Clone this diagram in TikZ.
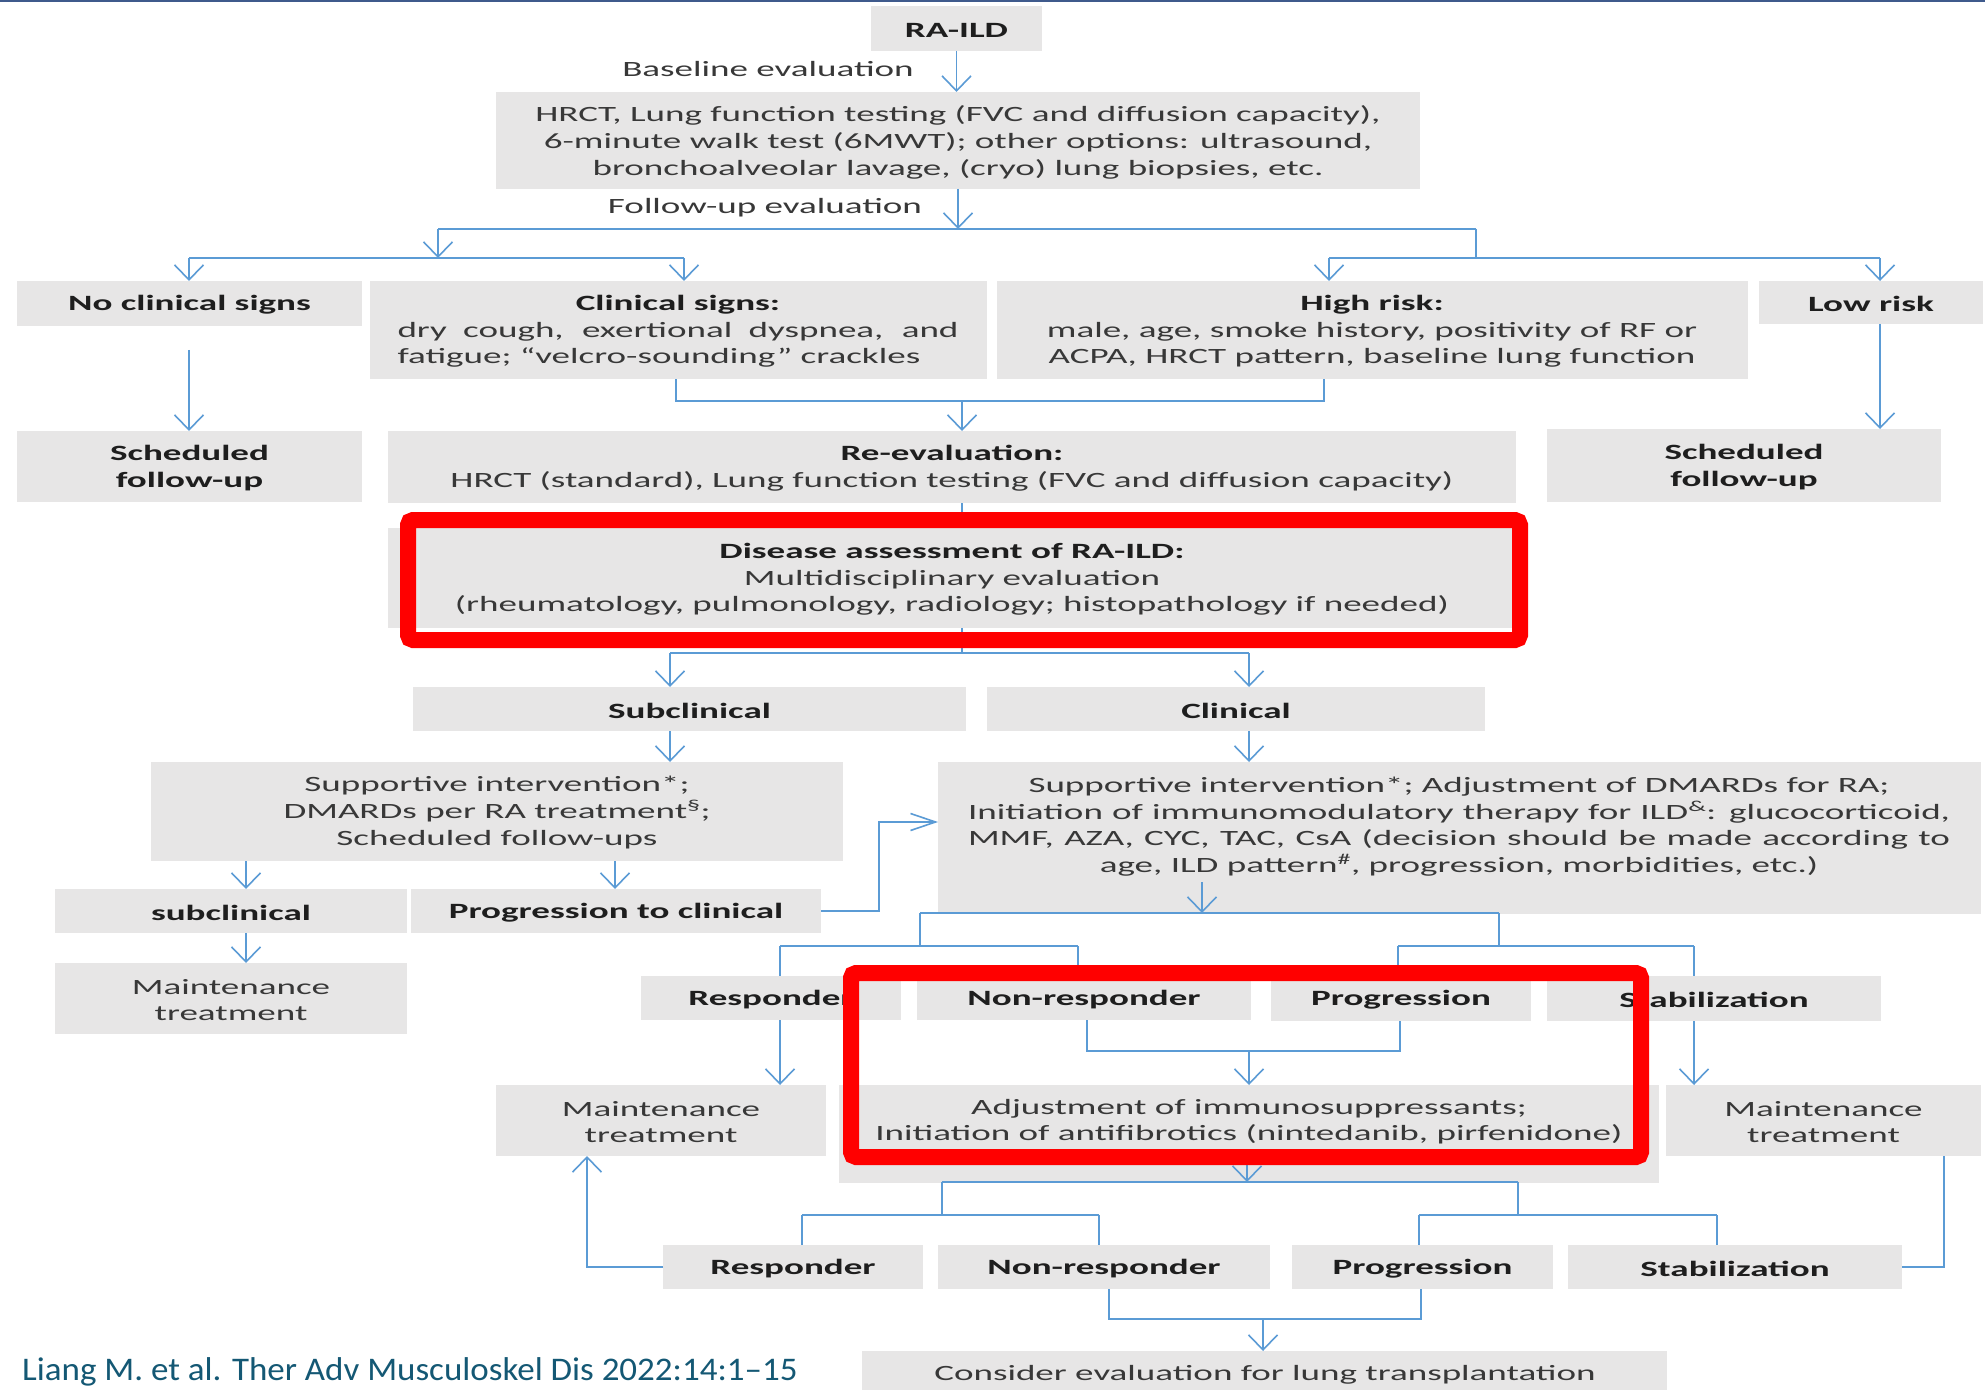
\documentclass[tikz,border=0pt]{standalone}
\usepackage{fontspec}
\setmainfont{Carlito}[FakeStretch=1.7]
\newfontfamily\citefont{Carlito}[FakeStretch=1.06]
\usetikzlibrary{arrows.meta,fit,calc}
\definecolor{boxgray}{RGB}{231,230,230}
\definecolor{lblue}{RGB}{91,155,213}
\definecolor{txtc}{RGB}{56,56,56}
\definecolor{boldc}{RGB}{30,30,30}
\definecolor{topblue}{RGB}{63,90,140}
\definecolor{citec}{RGB}{20,88,116}
\definecolor{hired}{RGB}{255,0,0}
\tikzset{
  gbox/.style={fill=boxgray, draw=none, inner sep=0pt, outer sep=0pt},
  txt/.style={font=\fontsize{21.8bp}{26.6bp}\selectfont, text=txtc, inner sep=0pt, align=center, yshift=-1.5bp},
  btxt/.style={txt, font=\fontsize{21.8bp}{26.6bp}\selectfont\bfseries, text=boldc},
  conn/.style={draw=lblue, line width=1.6bp},
  dn/.style={conn, -{Straight Barb[length=15bp,width=29bp]}},
  rt/.style={conn, -{Straight Barb[length=25bp,width=17bp]}},
  hilite/.style={draw=hired, line width=16bp, rounded corners=5bp, inner sep=0pt, outer sep=0pt},
}
% grey box from its top-left to its bottom-right corner
\newcommand\gb[5]{\node[gbox, fit={(#2,#3) (#4,#5)}] (#1) {};}
\newcommand\hd[1]{{\bfseries\color{boldc}#1}}
\begin{document}
\begin{tikzpicture}[x=1bp, y=-1bp]
\useasboundingbox (0,0) rectangle (1985,1390);
\fill[white] (0,0) rectangle (1985,1390);
\draw[topblue, line width=2.5bp] (0,1) -- (1985,1);

% ---- boxes ----
\gb{ra}{871}{6}{1042}{51}
\gb{hrct}{496}{92}{1420}{189}
\gb{nocs}{17}{281}{362}{326}
\gb{clin}{370}{281}{987}{379}
\gb{high}{997}{281}{1748}{379}
\gb{low}{1759}{281}{1983}{324}
\gb{sfl}{17}{431}{362}{502}
\gb{reev}{388}{431}{1516}{503}
\gb{sfr}{1547}{429}{1941}{502}
\gb{dis}{388}{528}{1516}{628}
\gb{subc}{413}{687}{966}{731}
\gb{clinc}{987}{687}{1485}{731}
\gb{supl}{151}{762}{843}{861}
\gb{supr}{938}{762}{1981}{914}
\gb{subl}{55}{889}{407}{933}
\gb{prog}{411}{889}{821}{933}
\gb{mtl}{55}{963}{407}{1034}
\gb{resp1}{641}{976}{901}{1020}
\gb{nres1}{917}{976}{1251}{1020}
\gb{prog1}{1271}{976}{1531}{1021}
\gb{stab1}{1547}{976}{1881}{1021}
\gb{mtm}{496}{1085}{826}{1156}
\gb{adj}{839}{1085}{1659}{1183}
\gb{mtr}{1666}{1085}{1981}{1156}
\gb{resp2}{663}{1245}{923}{1289}
\gb{nres2}{938}{1245}{1270}{1289}
\gb{prog2}{1292}{1245}{1553}{1289}
\gb{stab2}{1568}{1245}{1902}{1289}
\gb{cons}{862}{1351}{1667}{1390}

% ---- texts ----
\node[btxt] (ra-t) at (ra.center) {RA-ILD};
\node[txt] (bl) at (768,68) {Baseline evaluation};
\node[txt] (hrct-t) at (958,141) {HRCT, Lung function testing (FVC and diffusion capacity),\\6-minute walk test (6MWT); other options: ultrasound,\\bronchoalveolar lavage, (cryo) lung biopsies, etc.};
\node[txt] (fu) at (765,206) {Follow-up evaluation};
\node[btxt] (nocs-t) at (nocs.center) {No clinical signs};
\node[txt] (clin-t) at (678,330) {\hd{Clinical signs:}\\\makebox[561bp][s]{dry cough, exertional dyspnea, and}\\\makebox[561bp][l]{fatigue; “velcro-sounding” crackles}};
\node[txt] (high-t) at (1372,330) {\hd{High risk:}\\male, age, smoke history, positivity of RF or\\ACPA, HRCT pattern, baseline lung function};
\node[btxt] (low-t) at (low.center) {Low risk};
\node[btxt] (sfl-t) at (sfl.center) {Scheduled\\follow-up};
\node[txt] (reev-t) at (952,467) {\hd{Re-evaluation:}\\HRCT (standard), Lung function testing (FVC and diffusion capacity)};
\node[btxt] (sfr-t) at (sfr.center) {Scheduled\\follow-up};
\node[txt] (dis-t) at (952,578) {\hd{Disease assessment of RA-ILD:}\\Multidisciplinary evaluation\\(rheumatology, pulmonology, radiology; histopathology if needed)};
\node[btxt] (subc-t) at (subc.center) {Subclinical};
\node[btxt] (clinc-t) at (clinc.center) {Clinical};
\node[txt] (supl-t) at (497,811) {Supportive intervention*;\\DMARDs per RA treatment\textsuperscript{\S};\\Scheduled follow-ups};
\node[txt] (supr-t) at (1459,825) {Supportive intervention*; Adjustment of DMARDs for RA;\\\makebox[982bp][s]{Initiation of immunomodulatory therapy for ILD\textsuperscript{\&}: glucocorticoid,}\\\makebox[982bp][s]{MMF, AZA, CYC, TAC, CsA (decision should be made according to}\\age, ILD pattern\textsuperscript{\#}, progression, morbidities, etc.)};
\node[btxt] (subl-t) at (subl.center) {subclinical};
\node[btxt] (prog-t) at (prog.center) {Progression to clinical};
\node[txt] (mtl-t) at (mtl.center) {Maintenance\\treatment};
\node[btxt] (resp1-t) at (resp1.center) {Responder};
\node[btxt] (nres1-t) at (nres1.center) {Non-responder};
\node[btxt] (prog1-t) at (prog1.center) {Progression};
\node[btxt] (stab1-t) at (stab1.center) {Stabilization};
\node[txt] (mtm-t) at (mtm.center) {Maintenance\\treatment};
\node[txt] (adj-t) at (1249,1120) {Adjustment of immunosuppressants;\\Initiation of antifibrotics (nintedanib, pirfenidone)};
\node[txt] (mtr-t) at (mtr.center) {Maintenance\\treatment};
\node[btxt] (resp2-t) at (resp2.center) {Responder};
\node[btxt] (nres2-t) at (nres2.center) {Non-responder};
\node[btxt] (prog2-t) at (prog2.center) {Progression};
\node[btxt] (stab2-t) at (stab2.center) {Stabilization};
\node[txt] (cons-t) at (1265,1373) {Consider evaluation for lung transplantation};
\node[anchor=base west, inner sep=0pt, text=citec, font=\citefont\fontsize{33bp}{39bp}\selectfont] (cite) at (22,1380) {Liang M. et al. Ther Adv Musculoskel Dis 2022:14:1–15};

% ---- connectors ----
\draw[dn] (ra.south) -- (ra.south |- hrct.north);
\coordinate (s0) at (958,229);
\coordinate (s0l) at (438,229);
\coordinate (s0r) at (1476,229);
\draw[dn] (s0 |- hrct.south) -- (s0);
\draw[conn] (s0l) -- (s0r);
\coordinate (s1) at (438,258);
\coordinate (s1a) at (189,258);
\coordinate (s1b) at (684,258);
\draw[dn] (s0l) -- (s1);
\draw[conn] (s1a) -- (s1b);
\draw[dn] (s1a) -- (s1a |- nocs.north);
\draw[dn] (s1b) -- (s1b |- clin.north);
\coordinate (s2) at (1476,258);
\coordinate (s2a) at (1329,258);
\coordinate (s2b) at (1880,258);
\draw[conn] (s0r) -- (s2);
\draw[conn] (s2a) -- (s2b);
\draw[dn] (s2a) -- (s2a |- high.north);
\draw[dn] (s2b) -- (s2b |- low.north);

\coordinate (n0) at (189,350);
\draw[dn] (n0) -- (n0 |- sfl.north);
\coordinate (m0) at (676,401);
\coordinate (m1) at (1324,401);
\coordinate (m2) at (962,401);
\draw[conn] (m0 |- clin.south) -- (m0) -- (m1) -- (m1 |- high.south);
\draw[dn] (m2) -- (m2 |- reev.north);
\draw[dn] (s2b |- low.south) -- (s2b |- sfr.north);

\draw[conn] (m2 |- reev.south) -- (m2 |- dis.north);
\coordinate (d0) at (962,653);
\coordinate (d1) at (670,653);
\coordinate (d2) at (1249,653);
\draw[conn] (d0 |- dis.south) -- (d0);
\draw[conn] (d1) -- (d2);
\draw[dn] (d1) -- (d1 |- subc.north);
\draw[dn] (d2) -- (d2 |- clinc.north);
\draw[dn] (d1 |- subc.south) -- (d1 |- supl.north);
\draw[dn] (d2 |- clinc.south) -- (d2 |- supr.north);

\coordinate (e1) at (246,875);
\coordinate (e2) at (615,875);
\draw[dn] (e1 |- supl.south) -- (e1 |- subl.north);
\draw[dn] (e2 |- supl.south) -- (e2 |- prog.north);
\draw[dn] (e1 |- subl.south) -- (e1 |- mtl.north);
\coordinate (p1) at (879,822);
\draw[rt] (prog.east) -- (prog.east -| p1) -- (p1) -- (supr.west |- p1);

\coordinate (f0a) at (1202,882);
\coordinate (f0) at (1202,913);
\draw[dn] (f0a) -- (f0);
\coordinate (f1) at (920,913);
\coordinate (f2) at (1499,913);
\draw[conn] (f1) -- (f2);
\coordinate (g1) at (920,946);
\coordinate (g1a) at (780,946);
\coordinate (g1b) at (1078,946);
\draw[conn] (f1) -- (g1);
\draw[conn] (g1a) -- (g1b);
\draw[conn] (g1a) -- (g1a |- resp1.north);
\draw[conn] (g1b) -- (g1b |- nres1.north);
\coordinate (g2) at (1499,946);
\coordinate (g2a) at (1398,946);
\coordinate (g2b) at (1694,946);
\draw[conn] (f2) -- (g2);
\draw[conn] (g2a) -- (g2b);
\draw[conn] (g2a) -- (g2a |- prog1.north);
\draw[conn] (g2b) -- (g2b |- stab1.north);

\draw[dn] (g1a |- resp1.south) -- (g1a |- mtm.north);
\coordinate (h0) at (1249,1051);
\coordinate (h1) at (1087,1051);
\coordinate (h2) at (1400,1051);
\draw[conn] (h1 |- nres1.south) -- (h1) -- (h2) -- (h2 |- prog1.south);
\draw[dn] (h0) -- (h0 |- adj.north);
\draw[dn] (g2b |- stab1.south) -- (g2b |- mtr.north);

\coordinate (k0a) at (1247,1150);
\coordinate (k0) at (1247,1182);
\draw[dn] (k0a) -- (k0);
\coordinate (k1) at (942,1182);
\coordinate (k2) at (1518,1182);
\draw[conn] (k1) -- (k2);
\coordinate (l1) at (942,1215);
\coordinate (l1a) at (802,1215);
\coordinate (l1b) at (1099,1215);
\draw[conn] (k1) -- (l1);
\draw[conn] (l1a) -- (l1b);
\draw[conn] (l1a) -- (l1a |- resp2.north);
\draw[conn] (l1b) -- (l1b |- nres2.north);
\coordinate (l2) at (1518,1215);
\coordinate (l2a) at (1419,1215);
\coordinate (l2b) at (1717,1215);
\draw[conn] (k2) -- (l2);
\draw[conn] (l2a) -- (l2b);
\draw[conn] (l2a) -- (l2a |- prog2.north);
\draw[conn] (l2b) -- (l2b |- stab2.north);

\coordinate (q0) at (587,1267);
\draw[dn] (resp2.west) -- (q0) -- (q0 |- mtm.south);
\coordinate (q1) at (1944,1267);
\draw[conn] (stab2.east) -- (q1) -- (q1 |- mtr.south);

\coordinate (u0) at (1263,1319);
\coordinate (u1) at (1109,1319);
\coordinate (u2) at (1421,1319);
\draw[conn] (u1 |- nres2.south) -- (u1) -- (u2) -- (u2 |- prog2.south);
\draw[dn] (u0) -- (u0 |- cons.north);

% ---- highlight frames ----
\node[hilite, fit={(408,520) (1520,640)}] (hl1) {};
\node[hilite, fit={(851,973) (1641,1157)}] (hl2) {};
\end{tikzpicture}
\end{document}
